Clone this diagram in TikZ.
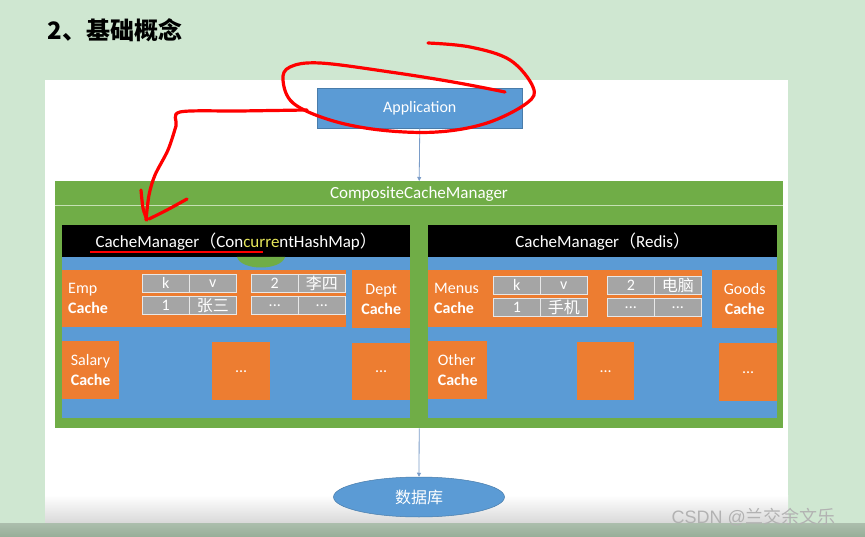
\documentclass[tikz,border=0pt]{standalone}
\usepackage{fontspec}
\setmainfont{Carlito}
\newfontfamily\cjk{Noto Sans CJK SC}
\newfontfamily\wmfont{Liberation Sans}
\usetikzlibrary{shapes.geometric,arrows.meta}
\definecolor{slidegreen}{HTML}{CFE7D1}
\definecolor{bandgreen}{HTML}{97AE98}
\definecolor{msblue}{HTML}{5B9BD5}
\definecolor{msorange}{HTML}{ED7D31}
\definecolor{msgreen}{HTML}{70AD47}
\definecolor{msgrey}{HTML}{A5A5A5}
\definecolor{linegreen}{HTML}{C5E0B4}
\definecolor{arrowblue}{HTML}{7A9CC8}
\definecolor{hilite}{HTML}{E8E85A}

\tikzset{
  box/.style={inner sep=0pt, anchor=north west},
  bluebox/.style={box, fill=msblue, draw=msblue!80!black, line width=0.5pt},
  orgbox/.style={box, fill=msorange},
  blackbox/.style={box, fill=black},
  wtxt/.style={text=white, font=\fontsize{16}{20}\selectfont, inner sep=0pt},
  headtxt/.style={text=white, font=\fontsize{17}{20}\selectfont, inner sep=0pt},
  cell/.style={box, fill=msgrey, draw=white!75!msgrey, line width=0.6pt,
    minimum width=47pt, minimum height=18pt, text=white, font=\fontsize{16}{16}\selectfont},
  flow/.style={draw=arrowblue, line width=0.8pt, -{Triangle[length=4pt,width=4pt]}},
  redpen/.style={draw=red, line width=3.2pt, line cap=round, line join=round},
}

\begin{document}
\begin{tikzpicture}[x=1pt,y=-1pt]
\useasboundingbox (0,0) rectangle (865,537);
% slide background
\fill[slidegreen] (0,0) rectangle (865,537);
\fill[white] (45,80) rectangle (788,523);
\shade[top color=white, bottom color=black!15] (45,495) rectangle (788,523);
\shade[top color=bandgreen!80, bottom color=bandgreen] (0,523) rectangle (865,537);

\node[anchor=west, font=\cjk\bfseries\fontsize{24}{24}\selectfont] (title) at (44,30) {2、基础概念};

\node[bluebox, wtxt, minimum width=205pt, minimum height=40pt] (app) at (317,88) {Application};

% composite manager
\node[box, fill=msgreen, minimum width=728pt, minimum height=247pt] (comp) at (55,181) {};
\node[headtxt] (comptitle) at (419,194) {CompositeCacheManager};
\draw[linegreen, line width=1pt] (55,206) -- (783,206);

% left cache manager
\node[blackbox, minimum width=348pt, minimum height=32pt] (lhead) at (62,225) {};
\node[box, fill=msblue, minimum width=348pt, minimum height=161pt] (lbody) at (62,257) {};
\node[headtxt] (lheadtxt) at (lhead.center) {CacheManager{\cjk （}Con\textcolor{hilite}{curre}ntHashMap{\cjk ）}};
\fill[msgreen] (237,257) .. controls (241,271) and (281,271) .. (285,257) -- cycle;
\draw[red, line width=2.2pt] (90,252) -- (263,252);

\node[orgbox, minimum width=284pt, minimum height=57pt] (emp) at (62,270) {};
\node[wtxt, anchor=west, align=left] (emplbl) at (68,298) {Emp\\\textbf{Cache}};
\node[cell] (lk) at (142,274) {k};
\node[cell] (lv) at (189,274) {v};
\node[cell] (lone) at (142,296) {1};
\node[cell] (lzs) at (189,296) {\cjk 张三};
\node[cell] (ltwo) at (251,274) {2};
\node[cell] (lls) at (298,274) {\cjk 李四};
\node[cell] (ldota) at (251,296) {...};
\node[cell] (ldotb) at (298,296) {...};
\node[orgbox, wtxt, align=center, minimum width=58pt, minimum height=58pt] (dept) at (352,270) {Dept\\\textbf{Cache}};
\node[orgbox, wtxt, align=left, minimum width=57pt, minimum height=58pt] (salary) at (62,341) {Salary\\\textbf{Cache}};
\node[orgbox, wtxt, minimum width=58pt, minimum height=58pt] (lmid) at (212,342) {...};
\node[orgbox, wtxt, minimum width=58pt, minimum height=57pt] (lend) at (352,343) {...};

% right cache manager
\node[blackbox, minimum width=349pt, minimum height=32pt] (rhead) at (428,225) {};
\node[box, fill=msblue, minimum width=349pt, minimum height=161pt] (rbody) at (428,257) {};
\node[headtxt] (rheadtxt) at (rhead.center) {CacheManager{\cjk （}Redis{\cjk ）}};

\node[orgbox, minimum width=274pt, minimum height=57pt] (menus) at (428,270) {};
\node[wtxt, anchor=west, align=left] (menuslbl) at (434,298) {Menus\\\textbf{Cache}};
\node[cell] (rk) at (493,276) {k};
\node[cell] (rv) at (540,276) {v};
\node[cell] (rone) at (493,298) {1};
\node[cell] (rsj) at (540,298) {\cjk 手机};
\node[cell] (rtwo) at (607,276) {2};
\node[cell] (rdn) at (654,276) {\cjk 电脑};
\node[cell] (rdota) at (607,298) {...};
\node[cell] (rdotb) at (654,298) {...};
\node[orgbox, wtxt, align=center, minimum width=65pt, minimum height=58pt] (goods) at (712,270) {Goods\\\textbf{Cache}};
\node[orgbox, wtxt, align=left, minimum width=59pt, minimum height=58pt] (other) at (428,341) {Other\\\textbf{Cache}};
\node[orgbox, wtxt, minimum width=57pt, minimum height=58pt] (rmid) at (577,342) {...};
\node[orgbox, wtxt, minimum width=58pt, minimum height=58pt] (rend) at (719,343) {...};

\node[ellipse, fill=msblue, draw=msblue!80!black, line width=0.5pt, minimum width=171pt, minimum height=40pt,
  inner sep=0pt, text=white, font=\cjk\fontsize{16}{16}\selectfont] (db) at (419,497) {数据库};

\draw[flow] (app.south) -- (comp.north);
\draw[flow] (comp.south) -- (db.north);

% red pen marks
\draw[redpen] plot[smooth, tension=0.6] coordinates {(428,43) (470,47) (510,60) (533,87) (527,103) (487,123) (437,132) (380,130) (330,120) (293,103) (283,80) (290,67) (320,63) (390,72) (453,82) (505,92)};
\draw[redpen] plot[smooth, tension=0.5] coordinates {(307,110) (240,111) (180,112) (176,126) (168,150) (155,175) (149,195) (146,220)};
\draw[redpen] plot[smooth] coordinates {(141,190) (143,208) (147,220)};
\draw[redpen] plot[smooth] coordinates {(149,219) (167,210) (187,199)};

\node[anchor=west, text=white!70!black, font=\wmfont\fontsize{18}{18}\selectfont] (mark) at (668,517) {CSDN @{\cjk 兰交余文乐}};
\end{tikzpicture}
\end{document}
